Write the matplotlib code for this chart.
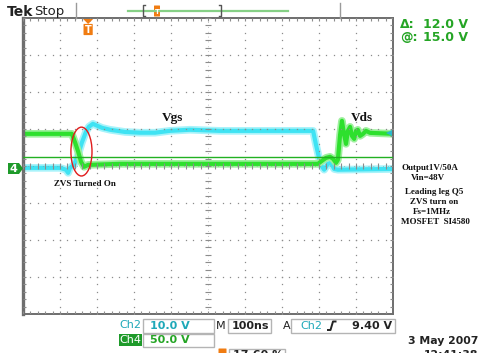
import numpy as np
import matplotlib
matplotlib.use("Agg")
import matplotlib.pyplot as plt
from matplotlib.patches import Ellipse, Rectangle, Polygon, FancyBboxPatch
from matplotlib.collections import LineCollection

# ---- acquired waveforms -------------------------------------------------
# Ch4: drain-source voltage of Q5 (time in ns, volts)
vds_t = [0, 132, 141, 149, 157, 165, 176, 262, 478, 641, 797, 808, 819, 830,
         838, 846, 851, 857, 862, 868, 873, 878, 884, 889, 895, 900, 905, 911,
         919, 927, 938, 1000]
vds_v = [46.0, 46.0, 34.0, 22.0, 8.0, 1.4, 4.0, 5.4, 5.4, 5.4, 5.4, 9.5, 13.5,
         14.9, 12.2, 6.8, 10.8, 44.6, 63.5, 44.6, 32.4, 50.0, 55.4, 43.2, 39.2,
         50.0, 51.4, 43.2, 45.9, 50.0, 47.3, 46.0]

# Ch2: gate-source voltage of Q5 (time in ns, volts)
vgs_t = [0, 100, 116, 122, 127, 138, 149, 159, 170, 178, 189, 200, 214, 235,
         276, 316, 357, 397, 451, 532, 641, 749, 784, 792, 800, 805, 814, 824,
         832, 841, 851, 1000]
vgs_v = [0.0, 0.0, -0.5, -1.35, 0.0, 0.8, 3.5, 6.8, 9.7, 11.1, 11.9, 11.4,
         10.8, 10.3, 9.7, 9.5, 9.5, 10.0, 10.3, 10.0, 10.0, 10.0, 10.0, 6.2,
         2.7, 0.8, -0.5, 1.1, 1.35, -0.3, -0.5, -0.3]

# ---- scope settings ------------------------------------------------------
ch2_scale = 10.0      # V/div
ch4_scale = 50.0      # V/div
time_scale = 100.0    # ns/div
ground_div = -0.05    # ground reference of both channels, in divisions
cursor_level = 15.0   # V on Ch4
cursor_delta = 12.0   # V
trigger_level = 9.40  # V on Ch2
trigger_time = 176    # ns from left edge
trigger_pct = 17.60
date_str = "3 May 2007"
time_str = "12:41:38"

GREEN = "#2de02d"
GREEN_FRINGE = "#9ef09e"
CYAN = "#3fe3f3"
CYAN_FRINGE = "#a8f3fa"
TXT_GREEN = "#25a525"
TXT_CYAN = "#1ea8b8"
ORANGE = "#f07c12"
GRID = "#8c8c8c"

W, H = 479, 353
fig = plt.figure(figsize=(W / 100, H / 100), dpi=100)
fig.patch.set_facecolor("white")

# graticule: 10 x 8 divisions
L, T, R, B = 23, 18, 393, 314
ax = fig.add_axes([L / W, (H - B) / H, (R - L) / W, (B - T) / H])
ax.set_xlim(0, 10 * time_scale)
ax.set_ylim(-4, 4)
ax.set_xticks([])
ax.set_yticks([])
for name, sp in ax.spines.items():
    sp.set_color("#6e6e6e")
    sp.set_linewidth(1.4)
ax.spines["left"].set_linewidth(2.4)

minor_y = np.arange(-20, 21) / 5.0
minor_x = np.arange(0, 51) * time_scale / 5.0
dot_kw = dict(ls="none", marker="s", ms=0.9, mew=0, color=GRID, zorder=4)
for k in range(1, 10):
    if k == 5:
        continue
    ax.plot(np.full_like(minor_y, k * time_scale), minor_y, **dot_kw)
for k in range(-3, 4):
    if k == 0:
        continue
    ax.plot(minor_x, np.full_like(minor_x, k), **dot_kw)

segs = []
tx = 0.07 * time_scale
ty = 0.07
for y in minor_y:
    segs.append([(5 * time_scale - tx, y), (5 * time_scale + tx, y)])
    segs.append([(0, y), (tx, y)])
    segs.append([(10 * time_scale - tx, y), (10 * time_scale, y)])
for x in minor_x:
    segs.append([(x, -ty), (x, ty)])
    segs.append([(x, 4 - ty), (x, 4)])
    segs.append([(x, -4), (x, -4 + ty)])
ax.add_collection(LineCollection(segs, colors=GRID, linewidths=0.8, zorder=4))
ax.plot([5 * time_scale] * 2, [-4, 4], color=GRID, lw=0.5, ls=(0, (1, 6)), zorder=4)
ax.plot([0, 10 * time_scale], [0, 0], color=GRID, lw=0.5, ls=(0, (1, 6)), zorder=4)


def to_div(v, scale):
    return ground_div + np.asarray(v) / scale


# traces: soft phosphor fringe under a bright core
ax.plot(vgs_t, to_div(vgs_v, ch2_scale), color=CYAN_FRINGE, lw=5.5,
        solid_joinstyle="round", zorder=2)
ax.plot(vgs_t, to_div(vgs_v, ch2_scale), color=CYAN, lw=3.0,
        solid_joinstyle="round", zorder=2.1)
ax.plot(vds_t, to_div(vds_v, ch4_scale), color=GREEN_FRINGE, lw=5.5,
        solid_joinstyle="round", zorder=2.2)
ax.plot(vds_t, to_div(vds_v, ch4_scale), color=GREEN, lw=3.0,
        solid_joinstyle="round", zorder=2.3)

# voltage cursor on Ch4
ax.axhline(to_div(cursor_level, ch4_scale), color="#22b022", lw=1.0, zorder=3)

# trigger level arrow on the right edge
ax.plot(10 * time_scale - 12, to_div(trigger_level, ch2_scale), marker="<",
        ms=5, color="#2bb8cf", mew=0, clip_on=False, zorder=5)

# annotations on the waveform
ax.add_patch(Ellipse((158, 0.39), 57, 1.32, fill=False, ec="#e01b1b",
                     lw=1.0, zorder=6))

# ---- screen furniture in pixel coordinates ------------------------------
ov = fig.add_axes([0, 0, 1, 1])
ov.set_xlim(0, W)
ov.set_ylim(H, 0)
ov.axis("off")
ov.set_zorder(10)

sans = "DejaVu Sans"
serif = "Liberation Serif"

ov.text(7, 11.5, "Tek", fontsize=10, fontweight="bold", family=sans,
        va="center", ha="left", color="#222222")
ov.text(34, 11.5, "Stop", fontsize=9.5, family=sans, va="center",
        ha="left", color="#222222")
ov.plot([76, 76], [3, 18], color="#9a9a9a", lw=1)
ov.plot([340, 340], [3, 18], color="#9a9a9a", lw=1)

# record position bar
ov.plot([128, 288], [11, 11], color="#86d086", lw=1.6)
ov.plot([145, 143, 143, 145], [5, 5, 16, 16], color="#555555", lw=1)
ov.plot([219, 221, 221, 219], [5, 5, 16, 16], color="#555555", lw=1)
ov.add_patch(FancyBboxPatch((154.5, 6), 5, 10, boxstyle="round,pad=0.5",
                            fc=ORANGE, ec="none"))
ov.text(157, 11.5, "T", fontsize=5, color="white", fontweight="bold",
        ha="center", va="center", family=sans)

# trigger position marker
tx_px = L + trigger_time / time_scale * (R - L) / 10
ov.add_patch(Polygon([(tx_px - 5, 19), (tx_px + 5, 19), (tx_px, 24)],
                     closed=True, fc=ORANGE, ec="none"))
ov.add_patch(FancyBboxPatch((tx_px - 4, 24.5), 8, 10, boxstyle="round,pad=0.6",
                            fc=ORANGE, ec="none"))
ov.text(tx_px, 30, "T", fontsize=7, color="white", fontweight="bold",
        ha="center", va="center", family=sans)

# Ch4 ground marker
ov.add_patch(Polygon([(8, 163), (19, 163), (23, 168.5), (19, 174), (8, 174)],
                     closed=True, fc="#1e9a2a", ec="none"))
ov.text(13.5, 168.8, "4", fontsize=8, color="white", fontweight="bold",
        ha="center", va="center", family=sans)

# cursor readout
ov.text(400, 25, "\u0394:", fontsize=9, color=TXT_GREEN, fontweight="bold",
        family=sans, va="center")
ov.text(468, 25, f"{cursor_delta:.1f} V", fontsize=9, color=TXT_GREEN,
        fontweight="bold", family=sans, va="center", ha="right")
ov.text(400, 37.5, "@:", fontsize=9, color=TXT_GREEN, fontweight="bold",
        family=sans, va="center")
ov.text(468, 37.5, f"{cursor_level:.1f} V", fontsize=9, color=TXT_GREEN,
        fontweight="bold", family=sans, va="center", ha="right")

# waveform labels
ov.text(173, 118, "Vgs", fontsize=9.5, fontweight="bold", family=serif,
        ha="center", va="center", color="#111111")
ov.text(362, 118, "Vds", fontsize=9.5, fontweight="bold", family=serif,
        ha="center", va="center", color="#111111")
ov.text(85, 184, "ZVS Turned On", fontsize=6.5, fontweight="bold",
        family=serif, ha="center", va="center", color="#111111")

notes = [("Output1V/50A", 430, 168), ("Vin=48V", 428, 178),
         ("Leading leg Q5", 434, 192), ("ZVS turn on", 434, 202),
         ("Fs=1MHz", 432, 212), ("MOSFET  SI4580", 435, 222)]
for s, x, y in notes:
    ov.text(x, y, s, fontsize=6.5, fontweight="bold", family=serif,
            ha="center", va="center", color="#111111")

# status bar
box_kw = dict(fc="white", ec="#b4b4b4", lw=1.0)
ov.text(130.5, 325.5, "Ch2", fontsize=8, color=TXT_CYAN, family=sans,
        ha="center", va="center")
ov.add_patch(Rectangle((143, 319), 71, 13.5, **box_kw))
ov.text(170, 325.8, f"{ch2_scale:.1f} V", fontsize=8, color=TXT_CYAN,
        family=sans, fontweight="bold", ha="center", va="center")
ov.text(220.5, 325.8, "M", fontsize=8, color="#222222", family=sans,
        ha="center", va="center")
ov.add_patch(Rectangle((228, 319), 43, 13.5, **box_kw))
ov.text(250, 325.8, f"{time_scale:.0f}ns", fontsize=8, color="#222222",
        family=sans, fontweight="bold", ha="center", va="center")
ov.text(286.5, 325.8, "A", fontsize=8, color="#222222", family=sans,
        ha="center", va="center")
ov.add_patch(Rectangle((291, 319), 104, 13.5, **box_kw))
ov.text(311, 325.8, "Ch2", fontsize=8, color=TXT_CYAN, family=sans,
        ha="center", va="center")
ov.plot([327, 330.5, 333, 336.5], [330, 330, 321.5, 321.5], color="#222222",
        lw=1.4, solid_capstyle="butt")
ov.text(392, 325.8, f"{trigger_level:.2f} V", fontsize=8, color="#222222",
        family=sans, fontweight="bold", ha="right", va="center")

ov.add_patch(Rectangle((119, 333.5), 23, 12.5, fc="#1e9a2a", ec="none"))
ov.text(130.5, 339.8, "Ch4", fontsize=8, color="white", family=sans,
        ha="center", va="center")
ov.add_patch(Rectangle((143, 333.5), 71, 13.5, **box_kw))
ov.text(170, 340.3, f"{ch4_scale:.1f} V", fontsize=8, color=TXT_GREEN,
        family=sans, fontweight="bold", ha="center", va="center")

ov.add_patch(FancyBboxPatch((219, 349), 7, 8, boxstyle="round,pad=0.5",
                            fc=ORANGE, ec="none"))
ov.add_patch(Rectangle((229.5, 348.5), 56, 10, **box_kw))
ov.text(233, 349.5, f"{trigger_pct:.2f} %", fontsize=8, color="#222222",
        family=sans, fontweight="bold", ha="left", va="top")

ov.text(478, 341.5, date_str, fontsize=7.8, color="#222222", family=sans,
        fontweight="bold", ha="right", va="center")
ov.text(478, 349.5, time_str, fontsize=7.8, color="#222222", family=sans,
        fontweight="bold", ha="right", va="top")

fig.savefig("out.png", dpi=100)
